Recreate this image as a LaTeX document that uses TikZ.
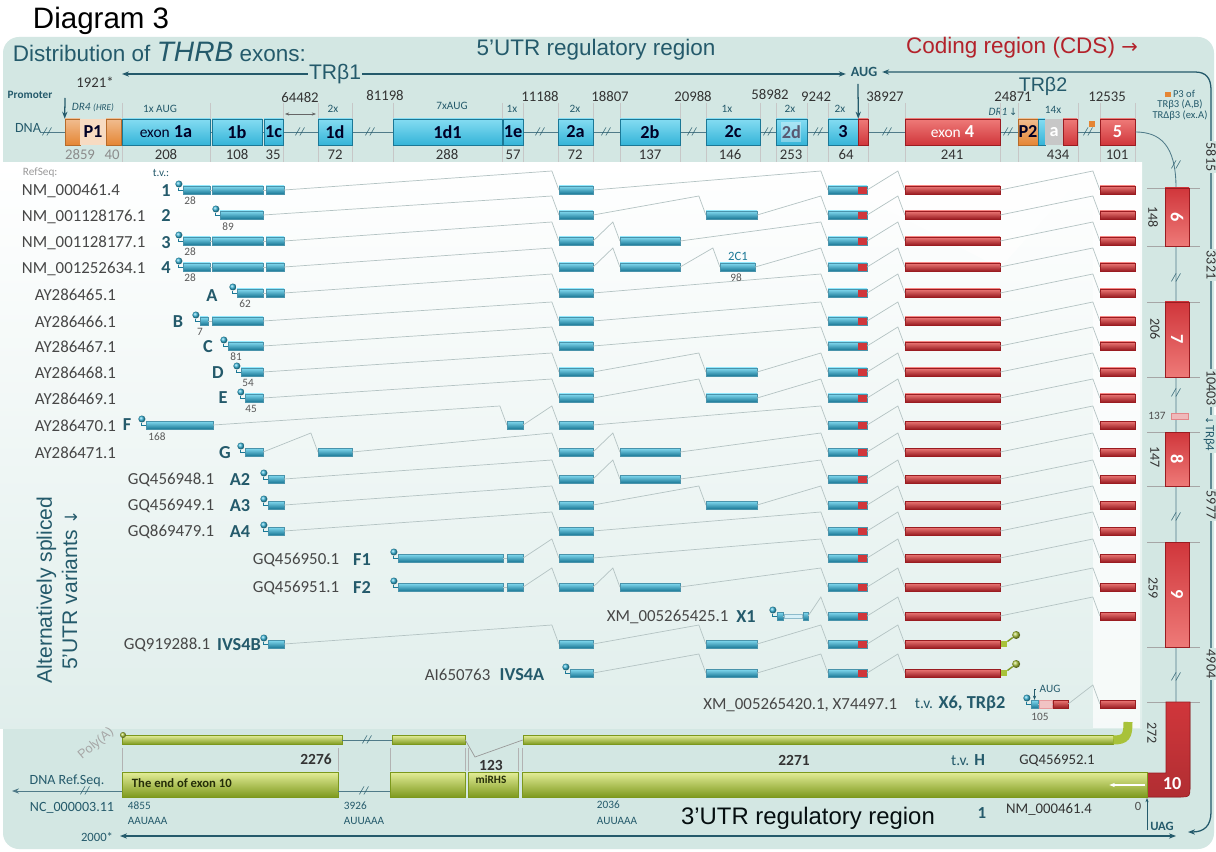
\documentclass[tikz,border=0pt]{standalone}
\usepackage{fontspec}
\setmainfont{Carlito}
\newfontfamily\arialf{Liberation Sans}
\newfontfamily\arrowf{DejaVu Sans}
\usetikzlibrary{arrows.meta}

\definecolor{panel}{HTML}{D3E7E3}
\definecolor{deepteal}{HTML}{245A6B}
\definecolor{linegray}{HTML}{B4C3C3}
\definecolor{exblue}{HTML}{35B4D8}
\definecolor{exbluetop}{HTML}{84DCF2}
\definecolor{exbluedark}{HTML}{1B7896}
\definecolor{exred}{HTML}{D0363B}
\definecolor{exredtop}{HTML}{EE7A78}
\definecolor{exreddark}{HTML}{9A1C21}
\definecolor{exorange}{HTML}{E58634}
\definecolor{exgreen}{HTML}{A8C23A}
\definecolor{exgreentop}{HTML}{E2EC96}
\definecolor{exgreendark}{HTML}{7C981C}
\definecolor{cdsred}{HTML}{B3222B}

\newcommand\pxl{0.025cm}
\newcommand\fs[1]{\fontsize{#1}{#1}\selectfont}

\tikzset{
  hbox/.style={inner sep=0pt, minimum height={26*\pxl}, font=\bfseries\fs{13}, text=black!85!blue},
  hblue/.style={hbox, draw=exbluedark, top color=exbluetop, bottom color=exblue},
  hred/.style={hbox, draw=exreddark, top color=exredtop, bottom color=exred, text=white},
  hor/.style={hbox, draw=exorange!80!black, top color=exorange!55!white, bottom color=exorange},
  hpeach/.style={hbox, fill=exorange!30!white},
  hgray/.style={hbox, fill=black!22, text=white},
  xbar/.style={inner sep=0pt, minimum height={8*\pxl}},
  barb/.style={top color=exbluetop, bottom color=exbluedark, draw=exbluedark!80, line width=0.2pt},
  barr/.style={top color=exredtop, bottom color=exreddark, draw=exreddark, line width=0.2pt},
  bart/.style={barb, path picture={\fill[exred] ([xshift={-9*\pxl}]path picture bounding box.north east) rectangle (path picture bounding box.south east);}},
  barl/.style={fill=exblue!20, draw=exbluedark!50, line width=0.2pt, minimum height={4*\pxl}},
  barp/.style={fill=exred!30, draw=exred!50, line width=0.2pt},
  ballb/.style={circle, inner sep=0pt, minimum size={7*\pxl}, ball color=exblue},
  ballg/.style={circle, inner sep=0pt, minimum size={8*\pxl}, ball color=exgreen},
  intron/.style={draw=linegray, line width=0.5pt},
  dotlink/.style={draw=exbluedark, line width=0.7pt},
  rname/.style={anchor=west, font=\fs{12}, text=black!72},
  tvlab/.style={font=\bfseries\fs{13}, text=deepteal},
  snum/.style={font=\fs{8}, text=black!65},
  hnum/.style={font=\fs{10.5}, text=black!80},
  hsmall/.style={font=\fs{8}, text=deepteal},
  brk/.style={font=\fs{8}\itshape, text=deepteal, inner sep=0pt},
  dnaline/.style={draw=deepteal!80, line width=0.6pt},
  tealline/.style={draw=deepteal, line width=0.9pt, >={Stealth[length=5pt]}},
  guide/.style={draw=black!22, line width=0.3pt},
  vbox/.style={inner sep=0pt, minimum height={24*\pxl}, top color=exred, bottom color=exredtop, draw=exreddark, text=white, font=\bfseries\fs{13}},
  gbar/.style={inner sep=0pt, top color=exgreentop, bottom color=exgreendark, draw=exgreendark},
  vlab/.style={rotate=-90, font=\fs{10}, text=black!80},
  elab/.style={rotate=-90, font=\fs{10}, text=black!80, fill=panel, inner sep=1pt}
}

\begin{document}
\begin{tikzpicture}[x=0.025cm, y=-0.025cm]
\useasboundingbox (0,0) rectangle (1216,852);
% backgrounds
\fill[white] (0,0) rectangle (1216,852);
\fill[panel, rounded corners=4mm] (3,37) rectangle (1214,849);
\shade[top color=white, bottom color=panel!70!white] (0,163) rectangle (1142,728);
\fill[white, opacity=.6] (800,165) -- (1092,165) -- (1000,268) -- cycle;
\fill[white, opacity=.7] (1093,163) rectangle (1140,728);

% titles
\node[anchor=west, font=\arialf\fs{21}] (title) at (28,21) {Diagram 3};
\node[anchor=west, font=\arialf\fs{16}, text=deepteal] (dist) at (8,52) {Distribution of {\fs{20}\itshape THRB} exons:};
\node[font=\arialf\fs{16}, text=deepteal] (utr5) at (596,50) {5’UTR regulatory region};
\node[font=\arialf\fs{16}, text=cdsred] (cds) at (1022,48) {Coding region (CDS) {\arrowf\fs{14}→}};

% TRb1 / TRb2 lines
\node[font=\bfseries\fs{10}, text=deepteal] (aug) at (864,72) {AUG};
\coordinate (trl) at (122,74);
\draw[tealline, <->] (trl) -- (trl -| aug.west);
\node[font=\arialf\fs{15}, text=deepteal, fill=panel, inner sep=1pt] (trb1) at (335,74) {TRβ1};
\draw[tealline, <->] (aug.east) -- (1195,72) .. controls (1206,72) and (1211,78) .. (1211,90)
  -- (1211,812) .. controls (1211,826) and (1204,832) .. (1188,832);
\node[font=\arialf\fs{14}, text=deepteal] (trb2) at (1043,86) {TRβ2};

% header labels
\node[font=\bfseries\fs{8}, text=deepteal] (prom) at (30,95) {Promoter};
\node[font=\fs{10}, text=deepteal] (dna) at (28,128) {DNA};
\node[hsmall, anchor=west] (dr4) at (67,108) {\itshape DR4 {\fs{6.5}(HRE)}};
\node[hsmall] (dr1) at (1003,112) {\itshape DR1\,{\upshape\arrowf\fs{7}↓}};
\node[align=center, font=\fs{7.5}, text=deepteal] (p3) at (1180,105) {{\color{exorange}\rule{4pt}{4pt}} P3 of\\TRβ3 (A,B)\\TRΔβ3 (ex.A)};
\foreach \x/\y/\t [count=\i] in {95/82/1921*, 300/98/64482, 385/96/81198, 540/97/11188, 610/97/18807, 693/97/20988, 770/95/58982, 816/97/9242, 885/97/38927, 1013/97/24871, 1107/97/12535}
  \node[hnum] (top\i) at (\x,\y) {\t};
\foreach \x/\y/\t [count=\i] in {160/109/1x AUG, 333/109/2x, 452/106/7xAUG, 512/109/1x, 575/109/2x, 727/109/1x, 790/109/2x, 840/109/2x, 1053/110/14x}
  \node[hsmall] (hs\i) at (\x,\y) {\t};
\foreach \x in {122,210,283,318,352,393,502,523,558,593,620,680,706,760,776,807,828,868,905,1000,1018,1078,1100,1135}
  \draw[guide] (\x,103) -- (\x,162);

% DNA line with exons
\draw[dnaline] (40,132) -- (1100,132);
\foreach \x [count=\i] in {47,300,370,540,606,692,768,818,887,1008,1088}
  \node[brk] (bk\i) at (\x,132) {//};
\foreach \n/\a/\b/\s/\t in {
  P1a/65/80/hor/{}, P1/80/106/hpeach/{P1}, P1b/106/121/hor/{},
  e1a/122/210/hblue/{{\mdseries\fs{11}exon} 1a}, e1b/212/262/hblue/1b, e1c/264/283/hblue/1c,
  e1d/318/352/hblue/1d, e1dd/393/502/hblue/1d1, e1e/503/523/hblue/1e,
  e2a/558/593/hblue/2a, e2b/620/680/hblue/2b, e2c/706/760/hblue/2c, e2d/776/807/hblue/2d,
  e3/828/858/hblue/3, e3r/858/868/hred/{}, e4/905/1000/hred/{{\mdseries\fs{11}exon} 4},
  P2/1018/1038/hor/P2, ea1/1038/1045/hblue/{}, ea/1045/1063/hgray/a, ea2/1063/1077/hred/{},
  e5/1100/1135/hred/5}
  \node[\s, minimum width={(\b-\a)*\pxl}] (\n) at ({(\a+\b)/2},132) {\t};
\fill[white, opacity=.35] (781,122) rectangle (801,142);
\node[fill=exorange, inner sep=0pt, minimum size={6*\pxl}] (p3box) at (1092,124) {};
\coordinate (promtop) at (65,98);
\draw[tealline, ->] (promtop) -- (P1a.north west);
\coordinate (augtop) at (858,84);
\draw[tealline, ->] (augtop) -- (e3.north east);
\coordinate (da1) at (285,114);
\coordinate (da2) at (316,114);
\draw[black!60, {Stealth[length=3pt]}-{Stealth[length=3pt]}] (da1) -- (da2);
\node[hnum, text=black!45] (n2859) at (80,155) {2859};
\node[hnum, text=black!45] (n40) at (112,155) {40};
\foreach \x/\t [count=\i] in {166/208, 237/108, 273/35, 335/72, 447/288, 513/57, 575/72, 650/137, 730/146, 791/253, 846/64, 952/241, 1058/434, 1117/101}
  \node[hnum] (bn\i) at (\x,155) {\t};

% right column: exons 6-10
\draw[dnaline] (e5.east) .. controls (1160,132) and (1176,145) .. (1176,188) -- (1176,702);
\foreach \y in {188,246,302,377,432,486,542,647,702}
  \draw[guide, draw=black!35] (1147,\y) -- (1200,\y);
\foreach \y [count=\i] in {165,278,393,517,677}
  \node[brk] (vk\i) at (1176,\y) {//};
\foreach \n/\a/\b in {6/188/246, 7/302/377, 8/432/486, 9/542/647}
  \node[vbox, rotate=-90, minimum width={(\b-\a)*\pxl}] (e\n) at (1177,{(\a+\b)/2}) {\n};
\node[fill=exred!35, draw=exred!60, inner sep=0pt, minimum width={17*\pxl}, minimum height={6*\pxl}] (e4b) at (1180,416) {};
\node[font=\fs{8}, text=black!70] (l137) at (1157,416) {137};
\fill[top color=exred, bottom color=exred!85!black, draw=exreddark]
  (1166,702) -- (1190,702) -- (1190,786) .. controls (1190,797) .. (1180,797) -- (1147,797) -- (1147,773) -- (1166,773) -- cycle;
\node[font=\bfseries\fs{13}, text=white] (e10) at (1172,784) {10};
\foreach \x/\y/\t [count=\i] in {1153/217/148, 1155/329/206, 1155/457/147, 1153/588/259, 1152/733/272}
  \node[vlab] (sz\i) at (\x,\y) {\t};
\foreach \y/\t [count=\i] in {157/5815, 265/3321, 388/10403, 505/5977, 664/4904}
  \node[elab] (in\i) at (1211,\y) {\t};
\node[elab, font=\fs{9}, text=deepteal] (trb4) at (1209,434) {{\arrowf\fs{7}↓}TRβ4};

% transcript rows
\node[font=\fs{8}, text=black!40, anchor=west] (refseq) at (18,173) {RefSeq:};
\node[font=\fs{8}, text=deepteal, anchor=west] (tvh) at (148,173) {t.v.:};
\foreach \rw/\y/\items in {
 1/190/{183/210/b,212/263/b,266/284/b,559/593/b,828/867/t,905/1000/r,1100/1135/r},
 2/215/{220/263/b,559/593/b,706/757/b,828/867/t,905/1000/r,1100/1135/r},
 3/241/{183/210/b,212/263/b,266/284/b,559/593/b,620/680/b,828/867/t,905/1000/r,1100/1135/r},
 4/267/{183/210/b,212/263/b,266/284/b,559/593/b,620/680/b,720/755/b,828/867/t,905/1000/r,1100/1135/r},
 5/293/{237/263/b,266/284/b,559/593/b,828/867/t,905/1000/r,1100/1135/r},
 6/321/{200/208/b,212/263/b,559/593/b,828/867/t,905/1000/r,1100/1135/r},
 7/346/{228/263/b,559/593/b,828/867/t,905/1000/r,1100/1135/r},
 8/372/{241/263/b,559/593/b,706/757/b,828/867/t,905/1000/r,1100/1135/r},
 9/398/{245/263/b,559/593/b,706/757/b,828/867/t,905/1000/r,1100/1135/r},
 10/425/{146/213/b,507/523/b,559/593/b,828/867/t,905/1000/r,1100/1135/r},
 11/452/{245/263/b,318/352/b,559/593/b,620/680/b,828/867/t,905/1000/r,1100/1135/r},
 12/479/{268/284/b,559/593/b,620/680/b,828/867/t,905/1000/r,1100/1135/r},
 13/505/{268/284/b,559/593/b,706/757/b,828/867/t,905/1000/r,1100/1135/r},
 14/531/{268/284/b,559/593/b,828/867/t,905/1000/r,1100/1135/r},
 15/558/{398/503/b,507/523/b,559/593/b,828/867/t,905/1000/r,1100/1135/r},
 16/587/{398/503/b,507/523/b,559/593/b,620/680/b,828/867/t,905/1000/r,1100/1135/r},
 17/616/{777/783/b,784/802/l,803/808/b,828/867/t,905/1000/r,1100/1135/r},
 18/644/{268/284/b,559/593/b,706/757/b,828/867/t,905/1000/r},
 19/673/{570/593/b,706/757/b,828/867/t,905/1000/r},
 20/704/{1031/1038/b,1039/1052/p,1053/1068/r,1100/1135/r}}{
  \foreach \a/\b/\k [count=\i, remember=\b as \pb (initially 0)] in \items {
    \node[xbar, bar\k, minimum width={(\b-\a)*\pxl}] (r\rw c\i) at ({(\a+\b)/2},\y) {};
    \ifnum\i=1
      \node[ballb] (d\rw) at ([shift={(-4,-6)}]r\rw c1.west) {};
      \draw[dotlink] (d\rw) |- (r\rw c1.west);
    \else
      \pgfmathtruncatemacro\gap{\a-\pb}
      \pgfmathtruncatemacro\pj{\i-1}
      \ifnum\gap<8
        \draw[intron] (r\rw c\pj.east) -- (r\rw c\i.west);
      \else
        \draw[intron] (r\rw c\pj.east) -- ([shift={(-7,-19)}]r\rw c\i.west) -- (r\rw c\i.west);
      \fi
    \fi
  }
}
% green ends of IVS4 rows
\foreach \rw/\n in {18/5, 19/4}{
  \node[fill=exgreen, inner sep=0pt, minimum size={6*\pxl}] (gs\rw) at ([xshift={4*\pxl}]r\rw c\n.east) {};
  \node[ballg] (gb\rw) at ([shift={(16,-9)}]r\rw c\n.east) {};
  \draw[exgreendark, line width=1pt] (gs\rw) -- (gb\rw);
}
% row names and variant labels
\foreach \rw/\x/\y/\t in {1/17/191/NM\_000461.4, 2/17/217/NM\_001128176.1, 3/17/243/NM\_001128177.1, 4/17/269/NM\_001252634.1,
  5/30/295/AY286465.1, 6/30/322/AY286466.1, 7/30/347/AY286467.1, 8/30/373/AY286468.1, 9/30/399/AY286469.1,
  10/30/426/AY286470.1, 11/30/453/AY286471.1, 12/123/480/GQ456948.1, 13/123/506/GQ456949.1, 14/123/532/GQ869479.1,
  15/248/560/GQ456950.1, 16/248/588/GQ456951.1, 17/602/617/XM\_005265425.1, 18/119/645/GQ919288.1,
  19/420/675/AI650763}
  \node[rname] (nm\rw) at (\x,\y) {\t};
\node[rname, anchor=east] (nm20) at (902,705) {XM\_005265420.1, X74497.1};
\foreach \rw/\x/\y/\t in {1/166/191/1, 2/166/216/2, 3/166/243/3, 4/166/268/4, 5/212/296/A, 6/178/322/B,
  7/208/347/C, 8/218/373/D, 9/223/398/E, 10/127/425/F, 11/225/453/G, 12/240/480/A2, 13/240/506/A3,
  14/240/532/A4, 15/362/560/F1, 16/362/588/F2, 17/746/617/X1, 18/239/645/IVS4B, 19/522/675/IVS4A}
  \node[tvlab] (tv\rw) at (\x,\y) {\t};
\node[tvlab, anchor=west] (tv20) at (910,704) {{\mdseries\fs{11}t.v.} X6, TRβ2};
\foreach \x/\y/\t [count=\i] in {190/201/28, 228/227/89, 190/252/28, 190/278/28, 245/304/62, 200/332/7,
  236/357/81, 248/383/54, 251/409/45, 157/437/168, 1040/717/105, 736/278/98}
  \node[snum] (sn\i) at (\x,\y) {\t};
\node[font=\fs{9}, text=exbluedark] (c2c1) at (738,256) {2C1};
\node[font=\fs{8}, text=deepteal] (aug2) at (1050,689) {AUG};
\draw[deepteal, -{Stealth[length=3pt]}] (aug2.west) -| (r20c1.north);
\node[rotate=90, align=center, font=\arialf\fontsize{15}{18}\selectfont, text=deepteal] (alt) at (57,590)
  {Alternatively spliced\\5’UTR variants {\arrowf\fs{12}↓}};

% 3'UTR region
\node[gbar, minimum width={220*\pxl}, minimum height={9*\pxl}] (gA) at (232,740) {};
\node[gbar, minimum width={73*\pxl}, minimum height={9*\pxl}] (gB) at (428.5,740) {};
\node[gbar, minimum width={590*\pxl}, minimum height={9*\pxl}] (gC) at (818,740) {};
\coordinate (hook) at (1128,722);
\draw[exgreen, line width={9*\pxl}] (gC.east) .. controls (1126,740) and (1128,736) .. (hook);
\node[ballg, minimum size={6*\pxl}] (gpa) at (123,735) {};
\draw[dnaline] (gA.east) -- (gB.west);
\node[brk] (bkg) at (367,740) {//};
\draw[intron, draw=black!40] (gB.east) -- (475,757) -- (gC.west);
\foreach \x in {122,338,390,465,468,518,522}
  \draw[guide, draw=black!30] (\x,748) -- (\x,771);
\node[gbar, minimum width={216*\pxl}, minimum height={25*\pxl}] (G1) at (230,785) {};
\node[gbar, minimum width={75*\pxl}, minimum height={25*\pxl}] (G2) at (427.5,785) {};
\node[gbar, minimum width={50*\pxl}, minimum height={25*\pxl}] (G3) at (493,785) {};
\node[gbar, minimum width={625*\pxl}, minimum height={25*\pxl}] (G4) at (834.5,785) {};
\node[anchor=west, font=\bfseries\fs{9}, text=black!70!exgreendark] (endex) at (127,783) {The end of exon 10};
\node[font=\bfseries\fs{8}, text=black!70!exgreendark] (mirhs) at (491,780) {miRHS};
\coordinate (refend) at (12,791);
\draw[dnaline, -{Stealth[length=5pt]}] ([yshift={-6*\pxl}]G1.west) -- (refend);
\node[brk] (bkr) at (85,791) {//};
\draw[dnaline] ([yshift={-6*\pxl}]G1.east) -- ([yshift={-6*\pxl}]G2.west);
\node[brk] (bkm) at (364,791) {//};
\draw[white, line width=0.8pt, -{Stealth[length=4pt]}] ([xshift={-2*\pxl}]G4.east) -- ++(-36,0);
\node[font=\fs{10}, text=deepteal] (dnaref) at (67,781) {DNA Ref.Seq.};
\node[font=\fs{10}, text=deepteal] (nc) at (72,808) {NC\_000003.11};
\node[font=\fs{9}, text=deepteal] (y2000) at (97,837) {2000*};
\node[font=\arialf\fs{9}, text=black!35, rotate=40, inner sep=0pt] (polya) at (96,744) {Poly(A)};
\foreach \x/\y/\t [count=\i] in {123/806/4855, 123/821/AAUAAA, 339/806/3926, 339/821/AUUAAA, 592/805/2036, 592/821/AUUAAA}
  \node[anchor=west, font=\fs{8}, text=deepteal] (pa\i) at (\x,\y) {\t};
\node[font=\bfseries\fs{11}, text=black!80] (l2276) at (316,759) {2276};
\node[font=\bfseries\fs{11}, text=black!80] (l123) at (491,765) {123};
\node[font=\bfseries\fs{11}, text=black!80] (l2271) at (794,760) {2271};
\node[font=\bfseries\fs{12}, text=deepteal] (tvH) at (968,760) {{\mdseries\fs{11}t.v.} H};
\node[font=\fs{10.5}, text=black!80] (gq52) at (1057,760) {GQ456952.1};
\node[font=\arialf\fs{17}, text=black!85!deepteal] (utr3) at (808,818) {3’UTR regulatory region};
\node[font=\bfseries\fs{12}, text=deepteal] (one) at (982,813) {1};
\node[font=\fs{10.5}, text=black!80] (nm61) at (1049,810) {NM\_000461.4};
\node[font=\fs{9}, text=black!70] (zero) at (1138,806) {0};
\node[font=\bfseries\fs{9}, text=deepteal] (uag) at (1162,826) {UAG};
\coordinate (uagb) at (1147,830);
\draw[deepteal, -{Stealth[length=3pt]}] (uagb) -- (1147,798);
\coordinate (botl) at (120,836);
\coordinate (botr) at (1176,836);
\draw[tealline, <->] (botl) -- (botr);
\end{tikzpicture}
\end{document}
